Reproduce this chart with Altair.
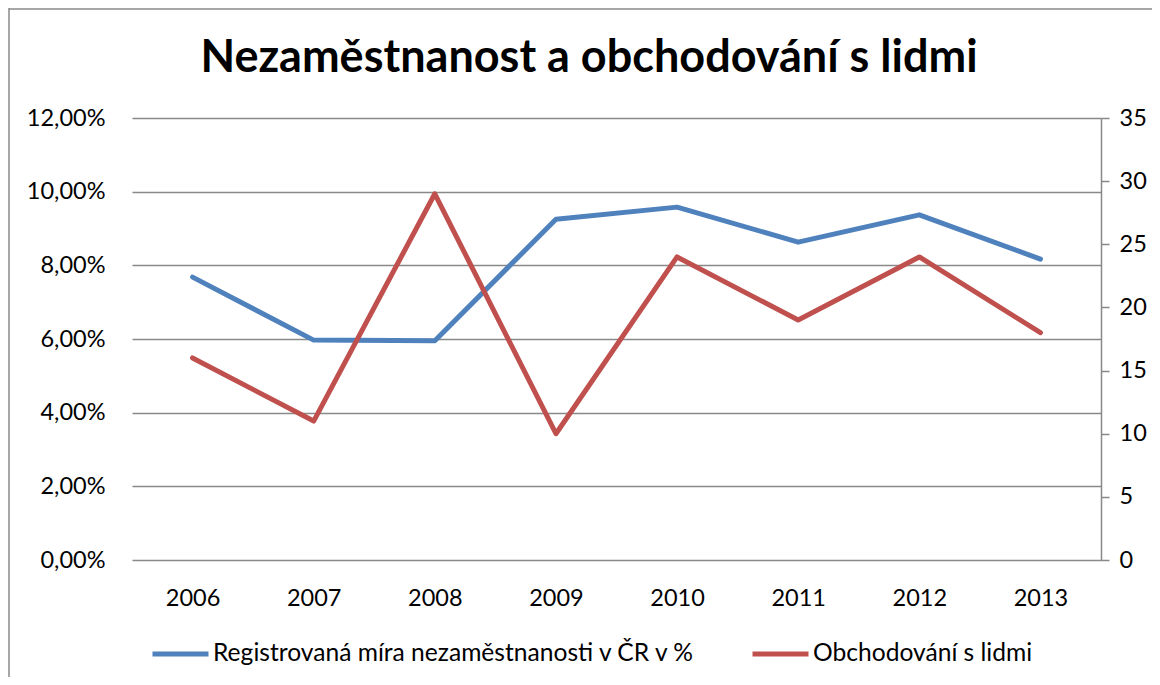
import altair as alt
import pandas as pd

years = ["2006", "2007", "2008", "2009", "2010", "2011", "2012", "2013"]
unemployment = [7.68, 5.97, 5.95, 9.25, 9.58, 8.63, 9.37, 8.17]
trafficking = [16, 11, 29, 10, 24, 19, 24, 18]
series_names = ["Registrovaná míra nezaměstnanosti v ČR v %", "Obchodování s lidmi"]
colors = ["#4F81BD", "#C0504D"]
left_ticks = [0, 2, 4, 6, 8, 10, 12]
right_ticks = [0, 5, 10, 15, 20, 25, 30, 35]
title_text = "Nezaměstnanost a obchodování s lidmi"

df1 = pd.DataFrame({"rok": years, "hodnota": unemployment, "serie": series_names[0]})
df2 = pd.DataFrame({"rok": years, "hodnota": trafficking, "serie": series_names[1]})

FONT = "Lato"
GRID = "#898989"
TICK_FS = 23.5

x_enc = alt.X("rok:O", sort=years, title=None,
              scale=alt.Scale(type="point", padding=0.5),
              axis=alt.Axis(domain=False, ticks=False, grid=False, labelAngle=0,
                            labelFontSize=TICK_FS, labelFont=FONT, labelColor="#000000",
                            labelPadding=26))

color_enc = alt.Color("serie:N", title=None,
                      scale=alt.Scale(domain=series_names, range=colors),
                      legend=alt.Legend(orient="none", direction="horizontal",
                                        legendX=18, legendY=505,
                                        symbolType="stroke", symbolSize=3136,
                                        symbolStrokeWidth=5, labelFont=FONT,
                                        labelFontSize=24.6, labelColor="#000000",
                                        labelOffset=2, columnPadding=46,
                                        labelLimit=700))

line1 = alt.Chart(df1).mark_line(strokeWidth=5, strokeCap="round", strokeJoin="round").encode(
    x=x_enc,
    y=alt.Y("hodnota:Q", title=None,
            scale=alt.Scale(domain=[0, 12], nice=False, zero=True),
            axis=alt.Axis(values=left_ticks, domain=False, ticks=False, grid=True,
                          gridColor=GRID, gridWidth=1.5,
                          labelExpr="replace(format(datum.value, '.2f'), '.', ',') + '%'",
                          labelFontSize=TICK_FS, labelFont=FONT, labelColor="#000000",
                          labelPadding=27)),
    color=color_enc,
)

line2 = alt.Chart(df2).mark_line(strokeWidth=5, strokeCap="round", strokeJoin="round").encode(
    x=x_enc,
    y=alt.Y("hodnota:Q", title=None,
            scale=alt.Scale(domain=[0, 35], nice=False, zero=True),
            axis=alt.Axis(orient="right", values=right_ticks, domain=True,
                          domainColor=GRID, domainWidth=1.5, ticks=True, tickSize=8,
                          tickColor=GRID, tickWidth=1.5, grid=False,
                          labelFontSize=TICK_FS, labelFont=FONT, labelColor="#000000",
                          labelPadding=10)),
    color=color_enc,
)

frame_df = pd.DataFrame({"t": [title_text]})
border_top = alt.Chart(frame_df).mark_rule(color="#888888", strokeWidth=1.5).encode(
    x=alt.value(-123), x2=alt.value(1030), y=alt.value(-109))
border_left = alt.Chart(frame_df).mark_rule(color="#888888", strokeWidth=1.5).encode(
    x=alt.value(-123), y=alt.value(-110), y2=alt.value(570))
title_mark = alt.Chart(frame_df).mark_text(
    font=FONT, fontSize=45, fontWeight="bold", color="#000000",
    align="center", baseline="alphabetic").encode(
    text="t:N", x=alt.value(457), y=alt.value(-46))

chart = alt.layer(line1, line2, border_top, border_left, title_mark).resolve_scale(
    y="independent"
).properties(
    width=969,
    height=442,
    autosize=alt.AutoSizeParams(type="none"),
    padding={"left": 124, "top": 110, "right": 51, "bottom": 117},
).configure_view(stroke=None)

chart.save("out.html", embed_options={"renderer": "svg", "actions": False})
